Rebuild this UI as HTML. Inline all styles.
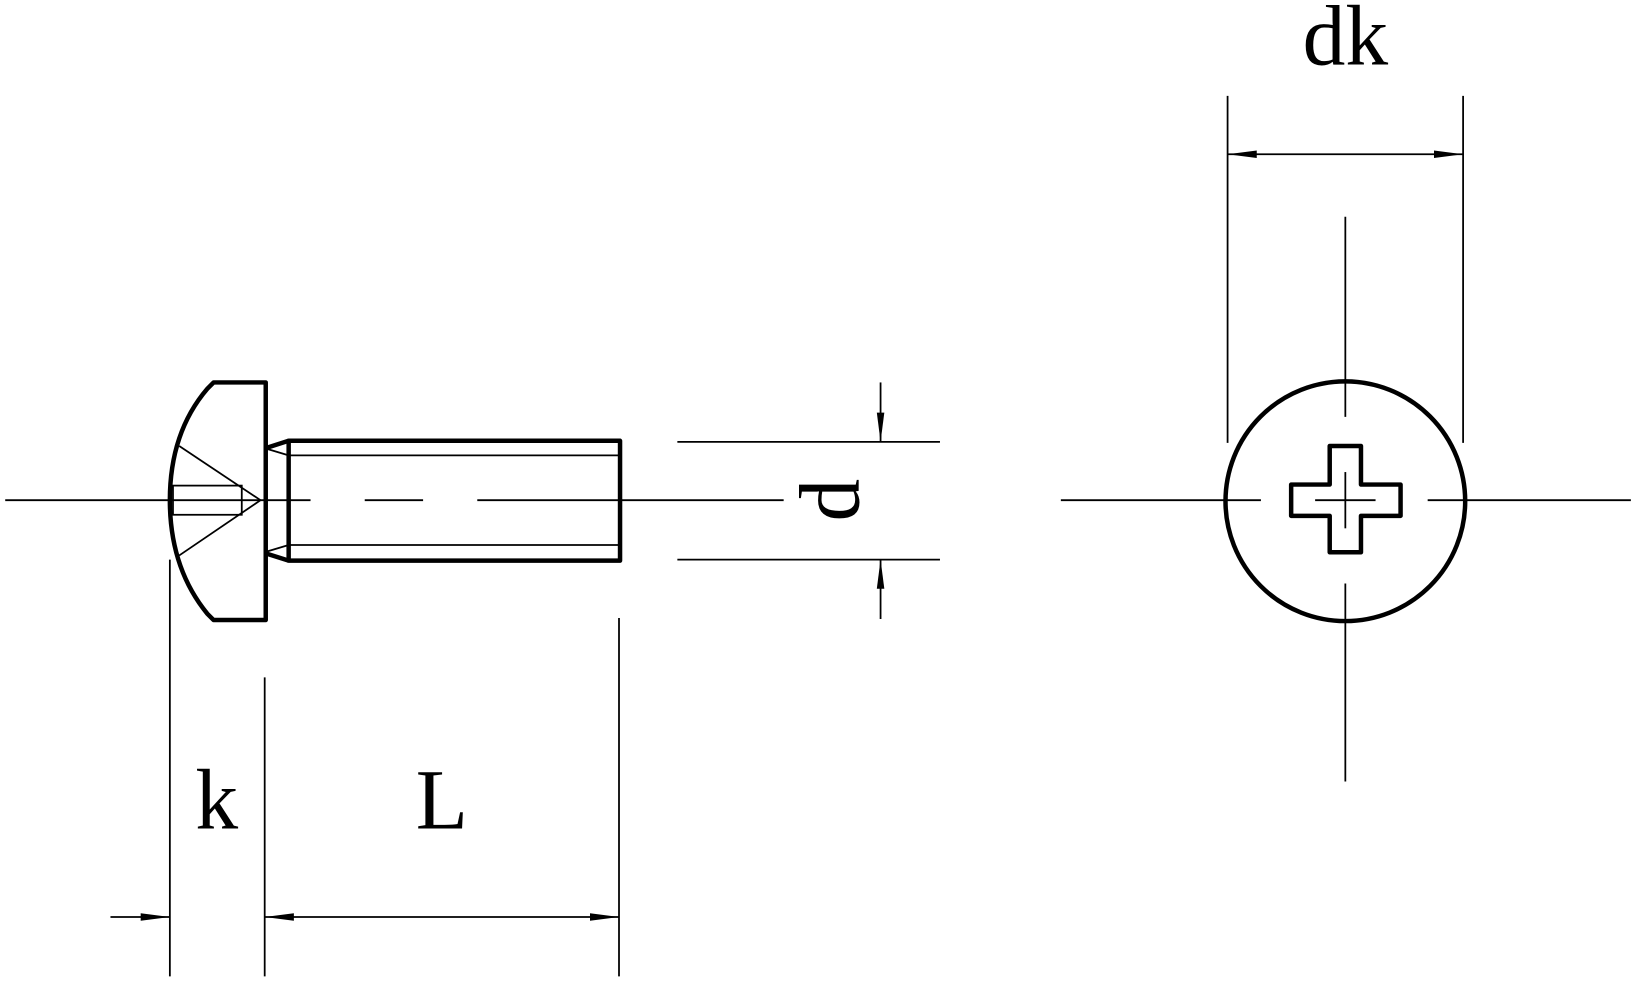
<!DOCTYPE html>
<html><head><meta charset="utf-8"><style>html,body{margin:0;padding:0;background:#fff}svg{display:block}</style></head><body>
<svg width="1634" height="981" viewBox="0 0 1568 941.4" preserveAspectRatio="none" xmlns="http://www.w3.org/2000/svg">
<defs>
<marker id="a" viewBox="0 0 10 10" refX="10" refY="5" markerWidth="28" markerHeight="9" preserveAspectRatio="none" markerUnits="userSpaceOnUse" orient="auto-start-reverse"><path d="M0,1 L10,5 L0,9 Z" fill="#000"/></marker>
</defs>
<g stroke="#000" fill="none" stroke-width="1.7">
<line x1="5" y1="480" x2="298" y2="480"/>
<line x1="350" y1="480" x2="406" y2="480"/>
<line x1="458" y1="480" x2="752" y2="480"/>
<line x1="1018" y1="480" x2="1210" y2="480"/>
<line x1="1262" y1="480" x2="1320" y2="480"/>
<line x1="1370" y1="480" x2="1565" y2="480"/>
<line x1="1291" y1="208" x2="1291" y2="400"/>
<line x1="1291" y1="453" x2="1291" y2="507"/>
<line x1="1291" y1="560" x2="1291" y2="750"/>
<line x1="163" y1="537" x2="163" y2="937"/>
<line x1="254" y1="650" x2="254" y2="937"/>
<line x1="594" y1="593" x2="594" y2="937"/>
<line x1="106" y1="880" x2="163" y2="880" marker-end="url(#a)"/>
<line x1="254" y1="880" x2="594" y2="880" marker-start="url(#a)" marker-end="url(#a)"/>
<line x1="650" y1="424" x2="902" y2="424"/>
<line x1="650" y1="537" x2="902" y2="537"/>
<line x1="845" y1="367" x2="845" y2="424" marker-end="url(#a)"/>
<line x1="845" y1="594" x2="845" y2="537" marker-end="url(#a)"/>
<line x1="1178" y1="92" x2="1178" y2="425"/>
<line x1="1404" y1="92" x2="1404" y2="425"/>
<line x1="1178" y1="148" x2="1404" y2="148" marker-start="url(#a)" marker-end="url(#a)"/>
<line x1="172" y1="428" x2="250" y2="480"/>
<line x1="172" y1="533" x2="250" y2="480"/>
<rect x="166" y="466" width="66" height="28"/>
<line x1="277" y1="437" x2="595" y2="437"/>
<line x1="277" y1="523" x2="595" y2="523"/>
<line x1="257" y1="431" x2="277" y2="437"/>
<line x1="257" y1="529" x2="277" y2="523"/>
</g>
<g stroke="#000" fill="none" stroke-width="4.3" stroke-linejoin="round">
<path d="M205,367 L255,367 L255,595 L205,595 L199,589 Q163,545 163,480 Q163,415 199,373 Z"/>
<rect x="277" y="423" width="318" height="115"/>
<path d="M255,430 L277,423 M255,531 L277,538"/>
<circle cx="1291" cy="481" r="115"/>
<path d="M1276,428 H1306 V465 H1344 V495 H1306 V530 H1276 V495 H1239 V465 H1276 Z"/>
</g>
<g font-family="'Liberation Serif',serif" font-size="82" text-anchor="middle" fill="#000">
<text x="208" y="795">k</text>
<text x="424" y="795">L</text>
<text x="1291" y="62">dk</text>
<text x="0" y="0" transform="translate(824,480) rotate(-90)">d</text>
</g>
</svg>
</body></html>
